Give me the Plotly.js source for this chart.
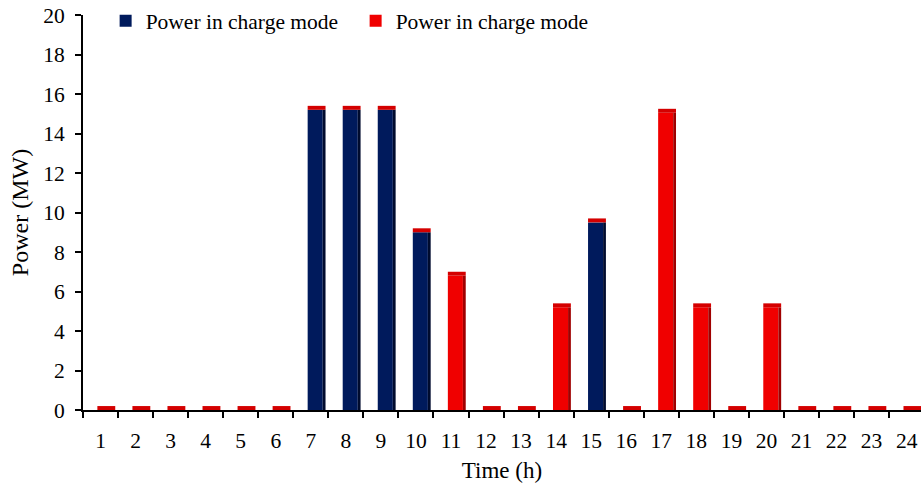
<!DOCTYPE html>
<html>
<head>
<meta charset="utf-8">
<script src="https://cdn.plot.ly/plotly-3.0.1.min.js"></script>
<style>html,body{margin:0;padding:0;background:#fff}</style>
</head>
<body>
<div id="chart" style="width:921px;height:490px"></div>
<script>
// Data
const hours = ["1","2","3","4","5","6","7","8","9","10","11","12","13","14","15","16","17","18","19","20","21","22","23","24"];
const chargePower = [0,0,0,0,0,0,15.2,15.2,15.2,9.0,0,0,0,0,9.5,0,0,0,0,0,0,0,0,0];
const dischargePower = [0,0,0,0,0,0,0,0,0,0,6.8,0,0,5.2,0,0,15.05,5.2,0,5.2,0,0,0,0];
const seriesNames = ["Power in charge mode","Power in charge mode"];

// Styling
const navy = "#001a5c", navyDark = "#000b2e";
const red = "#f00000", redDark = "#a00000";
const capH = 0.2, bodyW = 0.43, bodyOff = -0.09, sideW = 0.08;
const stackTop = chargePower.map((v,i)=>v+dischargePower[i]);
const font = "Liberation Serif, Times New Roman, serif";

const traces = [
  {type:"bar", x:hours, y:chargePower, name:seriesNames[0], width:bodyW, offset:bodyOff,
   marker:{color:navy, line:{width:0}}, hoverinfo:"x+y"},
  {type:"bar", x:hours, y:dischargePower, base:chargePower, name:seriesNames[1], width:bodyW, offset:bodyOff,
   marker:{color:red, line:{width:0}}, hoverinfo:"x+y"},
  {type:"bar", x:hours, y:chargePower, width:sideW, offset:bodyOff+bodyW,
   marker:{color:navyDark, line:{width:0}}, showlegend:false, hoverinfo:"skip"},
  {type:"bar", x:hours, y:dischargePower, base:chargePower, width:sideW, offset:bodyOff+bodyW,
   marker:{color:redDark, line:{width:0}}, showlegend:false, hoverinfo:"skip"},
  {type:"bar", x:hours, y:hours.map(()=>capH), base:stackTop, width:bodyW+sideW, offset:bodyOff,
   marker:{color:"#d40000", line:{width:0}}, showlegend:false, hoverinfo:"skip"}
];

const layout = {
  width:921, height:490,
  margin:{l:83, r:0, t:15, b:80},
  paper_bgcolor:"#fff", plot_bgcolor:"#fff",
  barmode:"overlay",
  font:{family:font, size:21, color:"#000"},
  showlegend:true,
  legend:{orientation:"h", x:0.027, y:1.037, yanchor:"top", xanchor:"left",
    font:{family:font, size:21.5}, entrywidth:205, entrywidthmode:"pixels",
    bgcolor:"rgba(0,0,0,0)", itemwidth:30},
  xaxis:{type:"category", range:[-0.5,23.41], showgrid:false, zeroline:false,
    showline:true, linecolor:"#000", linewidth:2,
    ticks:"outside", tickson:"boundaries", ticklen:6, tickcolor:"#000", tickwidth:2,
    tickfont:{family:font, size:21.5}, ticklabelstandoff:10,
    title:{text:"Time (h)", font:{family:font, size:23}, standoff:10}},
  yaxis:{range:[0,20], dtick:2, showgrid:false, zeroline:false,
    showline:true, linecolor:"#000", linewidth:2,
    ticks:"outside", ticklen:6, tickcolor:"#000", tickwidth:2,
    tickfont:{family:font, size:21.5}, ticklabelstandoff:6,
    title:{text:"Power (MW)", font:{family:font, size:24}, standoff:8}}
};

Plotly.newPlot("chart", traces, layout, {displayModeBar:false, staticPlot:true});
</script>
</body>
</html>
